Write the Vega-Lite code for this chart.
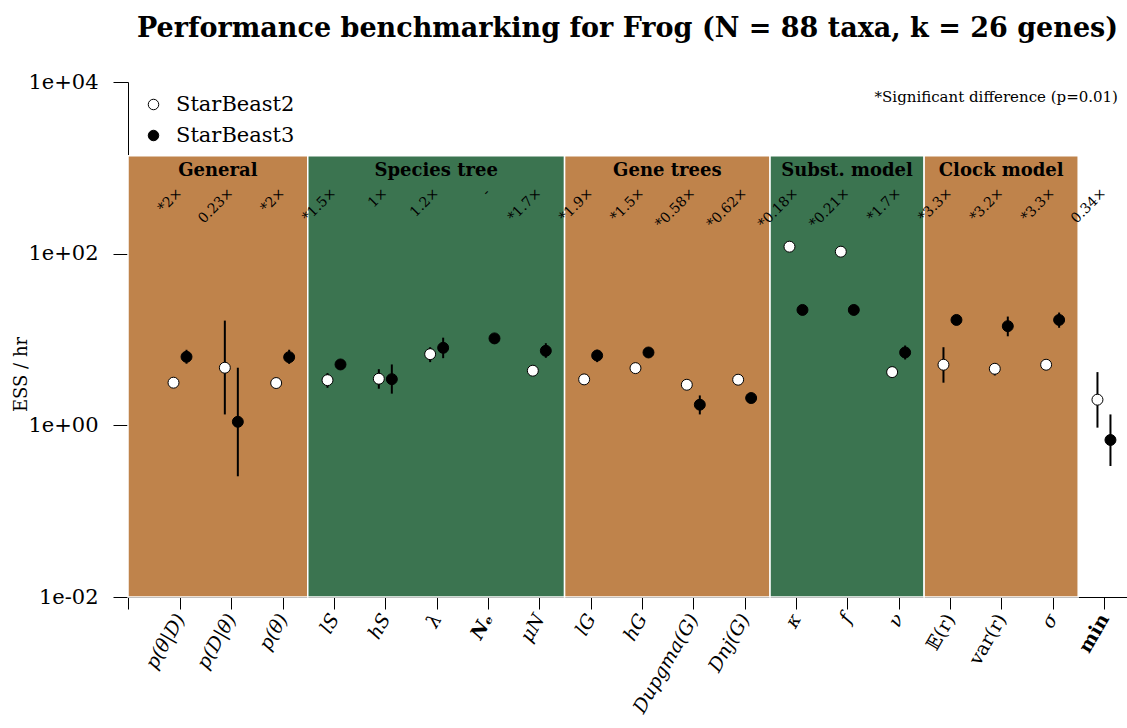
{
  "$schema": "https://vega.github.io/schema/vega-lite/v6.json",
  "width": 999,
  "height": 515,
  "autosize": {"type": "none"},
  "padding": {"left": 128, "top": 82, "right": 0, "bottom": 131},
  "background": "white",
  "title": {
    "text": "Performance benchmarking for Frog (N = 88 taxa, k = 26 genes)",
    "font": "DejaVu Serif",
    "fontSize": 27,
    "fontWeight": "bold",
    "color": "black",
    "anchor": "middle",
    "frame": "group",
    "offset": 28
  },
  "config": {
    "view": {"stroke": null},
    "font": "DejaVu Serif",
    "axis": {
      "zindex": 1,
      "grid": false,
      "domainColor": "black",
      "tickColor": "black",
      "labelColor": "black",
      "titleColor": "black",
      "labelFont": "DejaVu Serif",
      "titleFont": "DejaVu Serif",
      "titleFontWeight": "normal"
    },
    "legend": {
      "orient": "none",
      "legendX": 15,
      "legendY": 12,
      "padding": 0,
      "labelFont": "DejaVu Serif",
      "labelFontSize": 21,
      "labelColor": "black",
      "symbolType": "circle",
      "symbolSize": 110,
      "symbolStrokeColor": "black",
      "symbolStrokeWidth": 1,
      "rowPadding": 9,
      "labelOffset": 12
    }
  },
  "datasets": {
    "bands": [
      {"group": "General", "start": 0, "end": 3.5},
      {"group": "Species tree", "start": 3.5, "end": 8.5},
      {"group": "Gene trees", "start": 8.5, "end": 12.5},
      {"group": "Subst.  model", "start": 12.5, "end": 15.5},
      {"group": "Clock model", "start": 15.5, "end": 18.5}
    ],
    "ess": [
      {"param": "p(θ|D)", "method": "StarBeast2", "ess": 3.14, "lo": 2.95, "hi": 3.35},
      {"param": "p(θ|D)", "method": "StarBeast3", "ess": 6.29, "lo": 5.22, "hi": 7.59},
      {"param": "p(D|θ)", "method": "StarBeast2", "ess": 4.69, "lo": 1.34, "hi": 16.6},
      {"param": "p(D|θ)", "method": "StarBeast3", "ess": 1.1, "lo": 0.255, "hi": 4.69},
      {"param": "p(θ)", "method": "StarBeast2", "ess": 3.11, "lo": 2.95, "hi": 3.3},
      {"param": "p(θ)", "method": "StarBeast3", "ess": 6.23, "lo": 5.2, "hi": 7.6},
      {"param": "lS", "method": "StarBeast2", "ess": 3.36, "lo": 2.74, "hi": 4.06},
      {"param": "lS", "method": "StarBeast3", "ess": 5.12, "lo": 4.7, "hi": 5.5},
      {"param": "hS", "method": "StarBeast2", "ess": 3.49, "lo": 2.67, "hi": 4.51},
      {"param": "hS", "method": "StarBeast3", "ess": 3.45, "lo": 2.34, "hi": 5.12},
      {"param": "λ", "method": "StarBeast2", "ess": 6.75, "lo": 5.45, "hi": 8.13},
      {"param": "λ", "method": "StarBeast3", "ess": 8.0, "lo": 6.06, "hi": 10.5},
      {"param": "Nₑ", "method": "StarBeast3", "ess": 10.3, "lo": 9.3, "hi": 11.3},
      {"param": "μN", "method": "StarBeast2", "ess": 4.33, "lo": 4.1, "hi": 4.6},
      {"param": "μN", "method": "StarBeast3", "ess": 7.39, "lo": 6.12, "hi": 9.06},
      {"param": "lG", "method": "StarBeast2", "ess": 3.43, "lo": 3.25, "hi": 3.6},
      {"param": "lG", "method": "StarBeast3", "ess": 6.51, "lo": 5.45, "hi": 7.59},
      {"param": "hG", "method": "StarBeast2", "ess": 4.64, "lo": 4.4, "hi": 4.9},
      {"param": "hG", "method": "StarBeast3", "ess": 7.06, "lo": 6.6, "hi": 7.5},
      {"param": "Dupgma(G)", "method": "StarBeast2", "ess": 2.97, "lo": 2.8, "hi": 3.15},
      {"param": "Dupgma(G)", "method": "StarBeast3", "ess": 1.74, "lo": 1.34, "hi": 2.23},
      {"param": "Dnj(G)", "method": "StarBeast2", "ess": 3.4, "lo": 3.2, "hi": 3.6},
      {"param": "Dnj(G)", "method": "StarBeast3", "ess": 2.08, "lo": 1.95, "hi": 2.2},
      {"param": "κ", "method": "StarBeast2", "ess": 120.6, "lo": 115, "hi": 126},
      {"param": "κ", "method": "StarBeast3", "ess": 22.1, "lo": 21, "hi": 23.2},
      {"param": "f", "method": "StarBeast2", "ess": 105.5, "lo": 100, "hi": 111},
      {"param": "f", "method": "StarBeast3", "ess": 22.1, "lo": 21, "hi": 23.2},
      {"param": "ν", "method": "StarBeast2", "ess": 4.17, "lo": 3.95, "hi": 4.4},
      {"param": "ν", "method": "StarBeast3", "ess": 7.06, "lo": 5.85, "hi": 8.51},
      {"param": "𝔼(r)", "method": "StarBeast2", "ess": 5.08, "lo": 3.14, "hi": 8.13},
      {"param": "𝔼(r)", "method": "StarBeast3", "ess": 16.9, "lo": 16, "hi": 17.8},
      {"param": "var(r)", "method": "StarBeast2", "ess": 4.56, "lo": 3.81, "hi": 5.3},
      {"param": "var(r)", "method": "StarBeast3", "ess": 14.3, "lo": 10.9, "hi": 18.5},
      {"param": "σ", "method": "StarBeast2", "ess": 5.08, "lo": 4.8, "hi": 5.35},
      {"param": "σ", "method": "StarBeast3", "ess": 16.9, "lo": 13.7, "hi": 20.6},
      {"param": "min", "method": "StarBeast2", "ess": 1.99, "lo": 0.94, "hi": 4.17},
      {"param": "min", "method": "StarBeast3", "ess": 0.675, "lo": 0.336, "hi": 1.34}
    ],
    "notes": [
      {"param": "p(θ|D)", "note": "*2×"},
      {"param": "p(D|θ)", "note": "0.23×"},
      {"param": "p(θ)", "note": "*2×"},
      {"param": "lS", "note": "*1.5×"},
      {"param": "hS", "note": "1×"},
      {"param": "λ", "note": "1.2×"},
      {"param": "Nₑ", "note": "-"},
      {"param": "μN", "note": "*1.7×"},
      {"param": "lG", "note": "*1.9×"},
      {"param": "hG", "note": "*1.5×"},
      {"param": "Dupgma(G)", "note": "*0.58×"},
      {"param": "Dnj(G)", "note": "*0.62×"},
      {"param": "κ", "note": "*0.18×"},
      {"param": "f", "note": "*0.21×"},
      {"param": "ν", "note": "*1.7×"},
      {"param": "𝔼(r)", "note": "*3.3×"},
      {"param": "var(r)", "note": "*3.2×"},
      {"param": "σ", "note": "*3.3×"},
      {"param": "min", "note": "0.34×"}
    ]
  },
  "resolve": {"scale": {"x": "independent", "fill": "independent"}},
  "layer": [
    {
      "data": {"name": "bands"},
      "layer": [
        {
          "mark": {"type": "rect", "stroke": "white", "strokeWidth": 1.5},
          "encoding": {
            "x": {
              "field": "start",
              "type": "quantitative",
              "scale": {"domain": [0, 19.45], "nice": false, "zero": false},
              "axis": {"orient": "bottom", "values": [0], "labels": false, "domain": false, "ticks": true, "tickSize": 12, "title": null}
            },
            "x2": {"field": "end"},
            "y": {
              "datum": 0.01,
              "type": "quantitative",
              "scale": {"type": "log", "domain": [0.01, 10000], "nice": false},
              "axis": {
                "title": "ESS / hr",
                "titleFontSize": 18,
                "titleX": -107,
                "titleY": 292,
                "titleAngle": -90,
                "titleAlign": "center",
                "titleBaseline": "middle",
                "values": [0.01, 1, 100, 10000],
                "labelExpr": "datum.value < 0.1 ? '1e-02' : datum.value < 10 ? '1e+00' : datum.value < 1000 ? '1e+02' : '1e+04'",
                "labelFontSize": 21,
                "tickSize": 15,
                "labelPadding": 15
              }
            },
            "y2": {"datum": 1380},
            "fill": {
              "field": "group",
              "type": "nominal",
              "scale": {
                "domain": ["General", "Species tree", "Gene trees", "Subst.  model", "Clock model"],
                "range": ["#BF834B", "#3B7450", "#BF834B", "#3B7450", "#BF834B"]
              },
              "legend": null
            }
          }
        },
        {
          "transform": [{"calculate": "(datum.start + datum.end) / 2", "as": "mid"}],
          "mark": {"type": "text", "fontWeight": "bold", "fontSize": 18, "font": "DejaVu Serif", "color": "black", "baseline": "middle"},
          "encoding": {
            "x": {"field": "mid", "type": "quantitative"},
            "y": {"datum": 923, "type": "quantitative"},
            "text": {"field": "group"}
          }
        }
      ]
    },
    {
      "encoding": {
        "x": {
          "field": "param",
          "type": "nominal",
          "sort": null,
          "title": null,
          "scale": {
            "type": "point",
            "domain": ["p(θ|D)", "p(D|θ)", "p(θ)", "lS", "hS", "λ", "Nₑ", "μN", "lG", "hG", "Dupgma(G)", "Dnj(G)", "κ", "f", "ν", "𝔼(r)", "var(r)", "σ", "min"],
            "padding": 0.731,
            "align": 0.693
          },
          "axis": {
            "orient": "bottom",
            "labelAngle": -60,
            "labelAlign": "right",
            "labelBaseline": "middle",
            "labelFontSize": 19,
            "labelPadding": 6,
            "tickSize": 12,
            "labelFontStyle": {"condition": {"test": "datum.value == 'min' || datum.value == 'var(r)' || datum.value == '𝔼(r)'", "value": "normal"}, "value": "italic"},
            "labelFontWeight": {"condition": {"test": "datum.value == 'min' || datum.value == 'Nₑ'", "value": "bold"}, "value": "normal"}
          }
        }
      },
      "layer": [
        {
          "data": {"name": "ess"},
          "transform": [{"filter": "datum.method == 'StarBeast2'"}],
          "mark": {"type": "rule", "strokeWidth": 2, "color": "black", "xOffset": -6.5},
          "encoding": {
            "y": {"field": "lo", "type": "quantitative"},
            "y2": {"field": "hi"}
          }
        },
        {
          "data": {"name": "ess"},
          "transform": [{"filter": "datum.method == 'StarBeast3'"}],
          "mark": {"type": "rule", "strokeWidth": 2, "color": "black", "xOffset": 6.5},
          "encoding": {
            "y": {"field": "lo", "type": "quantitative"},
            "y2": {"field": "hi"}
          }
        },
        {
          "data": {"name": "ess"},
          "transform": [{"filter": "datum.method == 'StarBeast2'"}],
          "mark": {"type": "point", "shape": "circle", "filled": true, "size": 120, "stroke": "black", "strokeWidth": 1, "opacity": 1, "xOffset": -6.5},
          "encoding": {
            "y": {"field": "ess", "type": "quantitative"},
            "fill": {"field": "method", "type": "nominal", "title": null, "scale": {"domain": ["StarBeast2", "StarBeast3"], "range": ["white", "black"]}}
          }
        },
        {
          "data": {"name": "ess"},
          "transform": [{"filter": "datum.method == 'StarBeast3'"}],
          "mark": {"type": "point", "shape": "circle", "filled": true, "size": 120, "stroke": "black", "strokeWidth": 1, "opacity": 1, "xOffset": 6.5},
          "encoding": {
            "y": {"field": "ess", "type": "quantitative"},
            "fill": {"field": "method", "type": "nominal", "title": null, "scale": {"domain": ["StarBeast2", "StarBeast3"], "range": ["white", "black"]}}
          }
        },
        {
          "data": {"name": "notes"},
          "mark": {"type": "text", "angle": -45, "align": "right", "baseline": "middle", "fontSize": 14, "font": "DejaVu Serif", "color": "black"},
          "encoding": {
            "y": {"datum": 540, "type": "quantitative"},
            "text": {"field": "note"}
          }
        },
        {
          "data": {"values": [{"txt": "*Significant difference (p=0.01)"}]},
          "mark": {"type": "text", "align": "right", "baseline": "middle", "fontSize": 15, "font": "DejaVu Serif", "color": "black", "dx": 14},
          "encoding": {
            "x": {"datum": "min", "type": "nominal"},
            "y": {"datum": 6700, "type": "quantitative"},
            "text": {"field": "txt"}
          }
        }
      ]
    }
  ]
}
